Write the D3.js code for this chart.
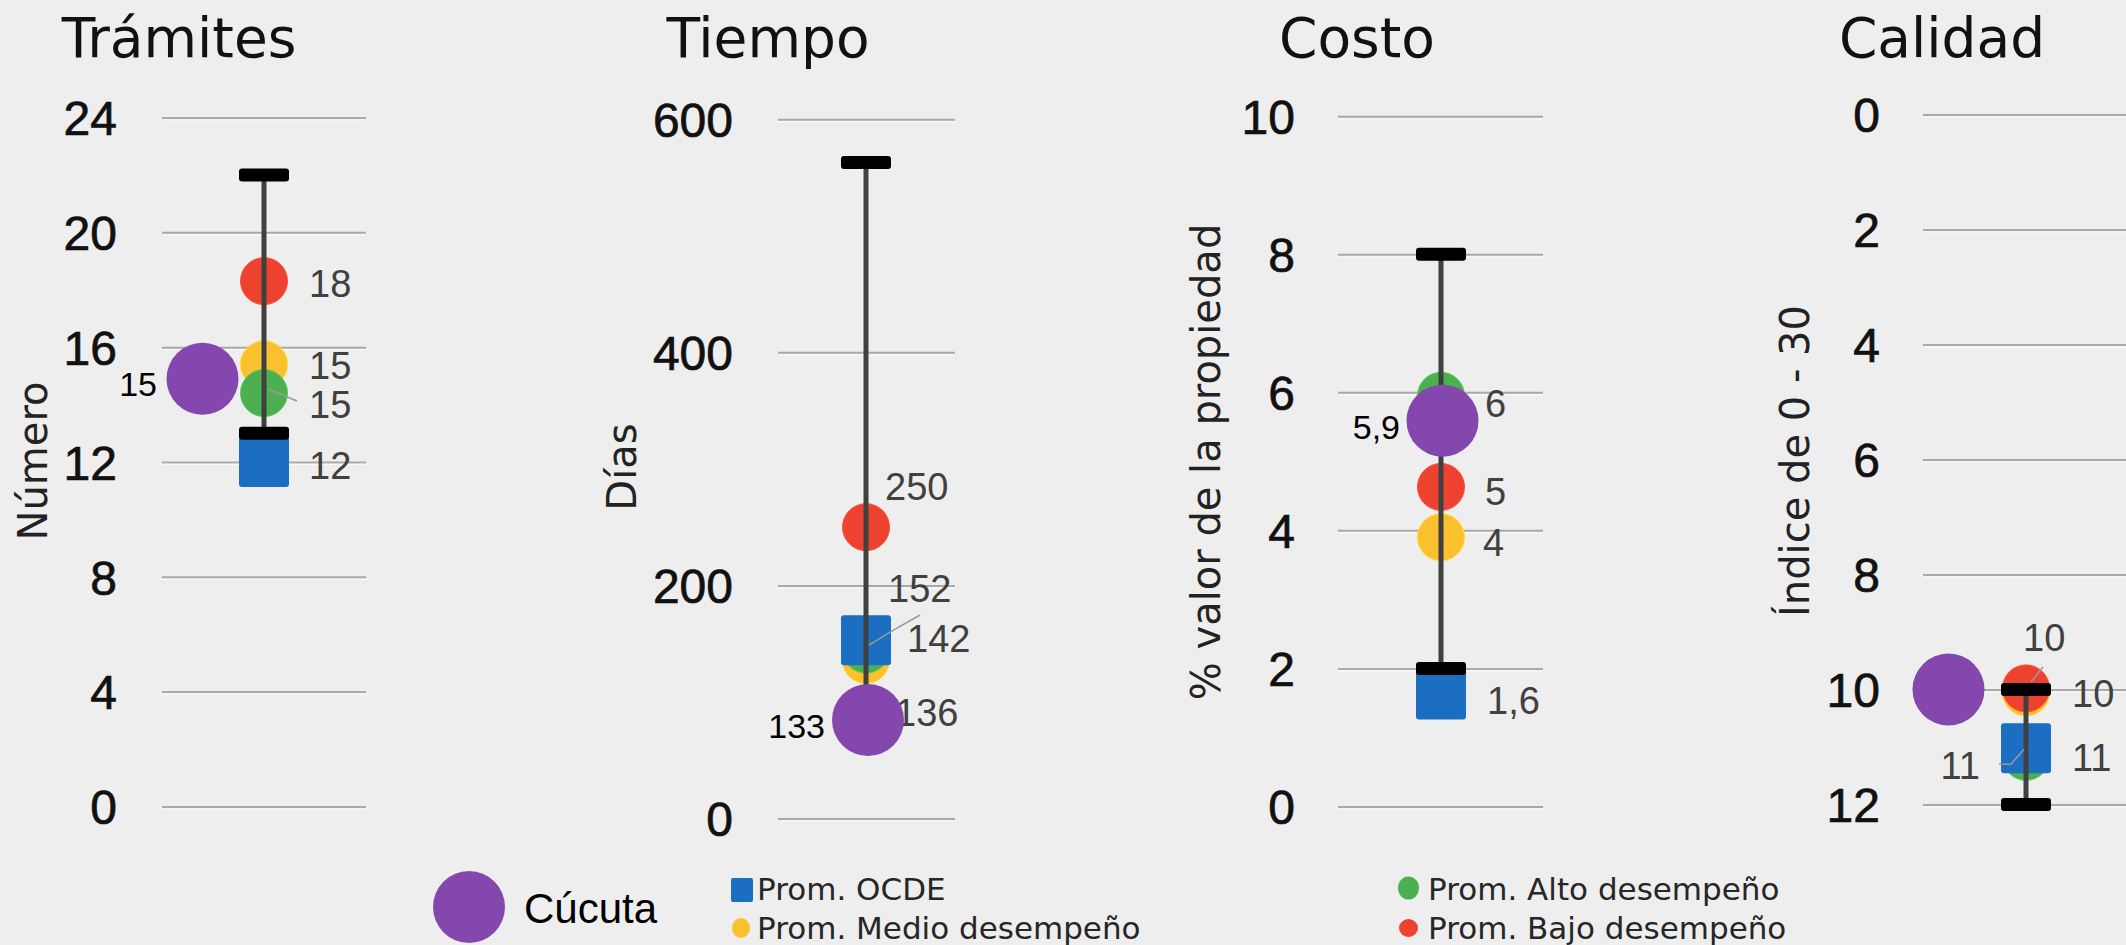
<!DOCTYPE html>
<html><head><meta charset="utf-8">
<script src="https://cdn.jsdelivr.net/npm/d3@7"></script>
<style>html,body{margin:0;padding:0;background:#eeeeee;} svg{display:block}</style>
</head><body>
<svg id="c" width="2126" height="945"></svg>
<script>
// ---------- DATA ----------
const panelTitles = ["Trámites", "Tiempo", "Costo", "Calidad"];
const axisTitles = ["Número", "Días", "% valor de la propiedad", "Índice de 0 - 30"];
const tickValues = [[0, 4, 8, 12, 16, 20, 24], [0, 200, 400, 600], [0, 2, 4, 6, 8, 10], [0, 2, 4, 6, 8, 10, 12]];
const axisMax = [24, 600, 10, 12];
const axisReversed = [false, false, false, true];

const cucuta    = [14.9, 84.5, 5.59, 10];
const promOCDE  = [12, 153, 1.62, 11.02];
const promMedio = [15.4, 136, 3.9, 10.05];
const promAlto  = [14.4, 145, 5.95, 11.17];
const promBajo  = [18.3, 250, 4.63, 9.98];
const rangeMin  = [13, 90, 2, 10];
const rangeMax  = [22, 563, 8, 12];

const cucutaLabels = ["15", "133", "5,9", ""];
const ocdeLabels   = ["12", "152", "1,6", "11"];
const medioLabels  = ["15", "136", "4", "10"];
const altoLabels   = ["15", "142", "6", "11"];
const bajoLabels   = ["18", "250", "5", "10"];

const legendNames = ["Cúcuta", "Prom. OCDE", "Prom. Medio desempeño", "Prom. Alto desempeño", "Prom. Bajo desempeño"];

// ---------- LAYOUT / STYLE ----------
const W = 2126, H = 945;
const colors = {cucuta: "#8447ae", ocde: "#1b6ec2", medio: "#fbc02d", alto: "#4caf50", bajo: "#ee4230"};
const layout = [
  {x0: 162, x1: 366, yTop: 117.5, yBot: 806.4, cx: 264, tickX: 117, titleX: 179, axisX: 47, axisY: 461, purpleDx: -61.5},
  {x0: 778, x1: 955, yTop: 119.3, yBot: 818.5, cx: 866, tickX: 733, titleX: 768, axisX: 636, axisY: 467, purpleDx: 2},
  {x0: 1338, x1: 1543, yTop: 116.3, yBot: 806.4, cx: 1441, tickX: 1295, titleX: 1357, axisX: 1220, axisY: 462, purpleDx: 1.5},
  {x0: 1923, x1: 2134, yTop: 114.5, yBot: 804.6, cx: 2026, tickX: 1880, titleX: 1942, axisX: 1809, axisY: 461, purpleDx: -77.5}
];
// label offsets [dx, dy, anchor] relative to marker centre
const labelPos = {
  bajo:   [[45, 2, "start"], [19, -41, "start"], [44, 5, "start"], [-3, -51.5, "start"]],
  medio:  [[45, 1, "start"], [29, 52, "start"], [42, 5, "start"], [46, 0.5, "start"]],
  alto:   [[45, 11.5, "start"], [41, -11.5, "start"], [44, 8, "start"], [46, 0.5, "start"]],
  ocde:   [[45, 3, "start"], [22, -52, "start"], [46, 5.5, "start"], [-46, 17, "end"]],
  cucuta: [[-45.5, 5, "end"], [-43, 6, "end"], [-42.5, 6, "end"], [-45, 5, "end"]]
};
const leaders = [
  {panel: 0, series: "alto", pts: [[4, -4], [33, 8]]},
  {panel: 1, series: "alto", pts: [[3, -4.5], [24, -17.5], [54, -34.5]]},
  {panel: 3, series: "ocde", pts: [[-27, 16], [-15, 16], [-2, 1]]},
  {panel: 3, series: "bajo", pts: [[5, -6.5], [17, -21.5]]}
];

const svg = d3.select("#c");
svg.append("rect").attr("width", W).attr("height", H).attr("fill", "#eeeeee");

const numFont = "'Liberation Sans', Arial, sans-serif";
const geoFont = "'DejaVu Sans', sans-serif";

const seriesVals = {medio: promMedio, alto: promAlto, bajo: promBajo, ocde: promOCDE, cucuta: cucuta};
const seriesLabels = {medio: medioLabels, alto: altoLabels, bajo: bajoLabels, ocde: ocdeLabels, cucuta: cucutaLabels};

panelTitles.forEach((title, i) => {
  const L = layout[i];
  const y = d3.scaleLinear().domain([0, axisMax[i]])
    .range(axisReversed[i] ? [L.yTop, L.yBot] : [L.yBot, L.yTop]);
  const g = svg.append("g");

  // title
  g.append("text").attr("x", L.titleX).attr("y", 57).attr("text-anchor", "middle")
    .attr("font-family", geoFont).attr("font-size", 55).attr("fill", "#111").text(title);

  // axis title
  g.append("text").attr("transform", `translate(${L.axisX},${L.axisY}) rotate(-90)`)
    .attr("text-anchor", "middle").attr("font-family", geoFont).attr("font-size", 40)
    .attr("fill", "#222").text(axisTitles[i]);

  // gridlines + tick labels via d3 axis
  const axis = d3.axisLeft(y).tickValues(tickValues[i]).tickSize(-(L.x1 - L.x0))
    .tickPadding(L.x0 - L.tickX).tickFormat(d3.format("d"));
  const ag = g.append("g").attr("transform", `translate(${L.x0},0)`).call(axis);
  ag.select(".domain").remove();
  ag.selectAll(".tick line").attr("stroke", "#a9a9a9").attr("stroke-width", 2);
  ag.selectAll(".tick").append("line").attr("x1", 0).attr("x2", L.x1 - L.x0)
    .attr("y1", 2).attr("y2", 2).attr("stroke", "#ffffff").attr("stroke-opacity", 0.7).attr("stroke-width", 1.2);
  ag.selectAll(".tick text").attr("font-family", numFont).attr("font-size", 48)
    .attr("fill", "#111").attr("stroke", "#111").attr("stroke-width", 0.7).attr("dy", "0.36em");

  // circles: medio, alto, bajo
  ["medio", "alto", "bajo"].forEach(s => {
    g.append("circle").attr("cx", L.cx).attr("cy", y(seriesVals[s][i])).attr("r", 23.5)
      .attr("fill", colors[s]).attr("stroke", d3.color(colors[s]).brighter(0.4)).attr("stroke-width", 1);
  });
  // square: OCDE
  g.append("rect").attr("x", L.cx - 25).attr("y", y(promOCDE[i]) - 25).attr("width", 50).attr("height", 50)
    .attr("rx", 3).attr("fill", colors.ocde);

  // range bar
  g.append("line").attr("x1", L.cx).attr("x2", L.cx).attr("y1", y(rangeMin[i])).attr("y2", y(rangeMax[i]))
    .attr("stroke", "#404040").attr("stroke-width", 5);
  [rangeMin[i], rangeMax[i]].forEach(v => {
    g.append("rect").attr("x", L.cx - 25).attr("y", y(v) - 6.5).attr("width", 50).attr("height", 13)
      .attr("rx", 3).attr("fill", "#000");
  });

  // leader lines
  leaders.filter(d => d.panel === i).forEach(d => {
    const ox = L.cx, oy = y(seriesVals[d.series][i]);
    g.append("path").attr("d", d3.line()(d.pts.map(p => [ox + p[0], oy + p[1]])))
      .attr("fill", "none").attr("stroke", "#9a9a9a").attr("stroke-width", 1.5);
  });

  // value labels
  ["bajo", "medio", "alto", "ocde"].forEach(s => {
    const p = labelPos[s][i];
    g.append("text").attr("x", L.cx + p[0]).attr("y", y(seriesVals[s][i]) + p[1] + 13.6)
      .attr("text-anchor", p[2]).attr("font-family", numFont).attr("font-size", 38)
      .attr("fill", "#404040").text(seriesLabels[s][i]);
  });
  {
    const p = labelPos.cucuta[i];
    const px = L.cx + L.purpleDx;
    g.append("text").attr("x", px + p[0]).attr("y", y(cucuta[i]) + p[1] + 12.2)
      .attr("text-anchor", p[2]).attr("font-family", numFont).attr("font-size", 34)
      .attr("fill", "#000").text(cucutaLabels[i]);
    g.append("circle").attr("cx", px).attr("cy", y(cucuta[i])).attr("r", 36).attr("fill", colors.cucuta);
  }
});

// ---------- LEGEND ----------
const lg = svg.append("g");
lg.append("circle").attr("cx", 469).attr("cy", 907).attr("r", 36).attr("fill", colors.cucuta);
lg.append("text").attr("x", 524).attr("y", 923).attr("font-family", numFont).attr("font-size", 42)
  .attr("fill", "#000").text(legendNames[0]);

lg.append("rect").attr("x", 731).attr("y", 878).attr("width", 22).attr("height", 24).attr("rx", 2).attr("fill", colors.ocde);
lg.append("text").attr("x", 757).attr("y", 900).attr("font-family", geoFont).attr("font-size", 31)
  .attr("fill", "#262626").text(legendNames[1]);
lg.append("ellipse").attr("cx", 741).attr("cy", 928).attr("rx", 9).attr("ry", 10).attr("fill", colors.medio);
lg.append("text").attr("x", 757).attr("y", 939).attr("font-family", geoFont).attr("font-size", 31)
  .attr("fill", "#262626").text(legendNames[2]);

lg.append("ellipse").attr("cx", 1408.5).attr("cy", 888).attr("rx", 10.5).attr("ry", 11.5).attr("fill", colors.alto);
lg.append("text").attr("x", 1428).attr("y", 900).attr("font-family", geoFont).attr("font-size", 31)
  .attr("fill", "#262626").text(legendNames[3]);
lg.append("ellipse").attr("cx", 1408.5).attr("cy", 928).attr("rx", 9.5).attr("ry", 9).attr("fill", colors.bajo);
lg.append("text").attr("x", 1428).attr("y", 939).attr("font-family", geoFont).attr("font-size", 31)
  .attr("fill", "#262626").text(legendNames[4]);
</script>
</body></html>
